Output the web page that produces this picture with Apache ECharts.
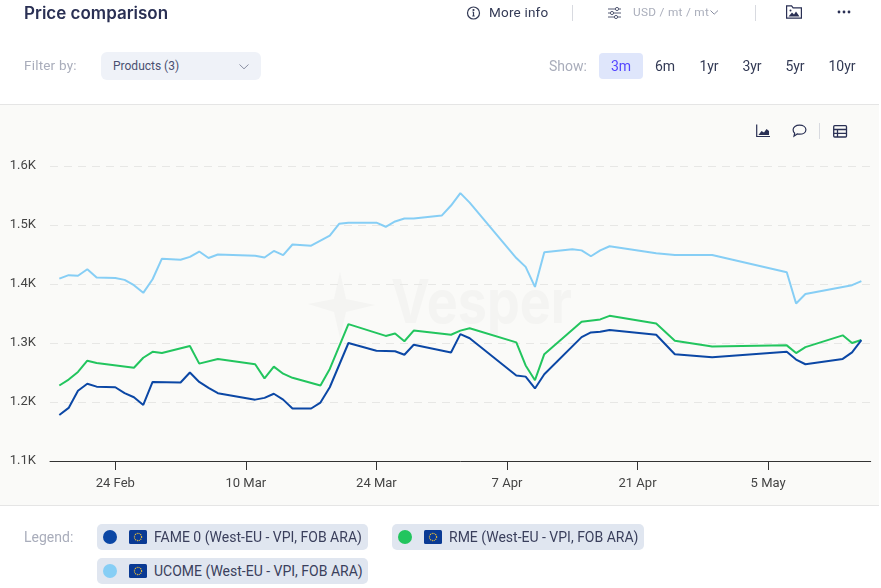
<!DOCTYPE html>
<html><head><meta charset="utf-8">
<script src="https://cdn.jsdelivr.net/npm/echarts@6/dist/echarts.min.js"></script>
<style>
html,body{margin:0;padding:0;background:#fff;width:881px;height:588px;overflow:hidden;font-family:Roboto,sans-serif}
.a{position:absolute;white-space:nowrap;line-height:1}
.c{transform:translate(-50%,0)}
#panel{position:absolute;left:0;top:104px;width:879px;height:400px;background:#fafaf8;border-top:1px solid #e5e5e5;border-bottom:1px solid #e5e5e5}
#chart{position:absolute;left:0;top:0;width:881px;height:588px}
.chip{position:absolute;background:#e0e6f0;border-radius:5px;height:26px}
.dot{position:absolute;width:14px;height:14px;border-radius:50%;top:6px;left:6px}
.chip svg{position:absolute;left:32px;top:6px}
.chip span{position:absolute;left:57px;top:5.5px;font-size:14px;color:#3a3f5c;white-space:nowrap;line-height:1.1}
svg{position:absolute;overflow:visible}
</style></head><body>
<div id="panel"></div>
<svg style="left:0;top:0" width="881" height="588">
 <path d="M340 272 L346 299 L375 305 L346 312 L340 338 L334 312 L308 304 L334 299 Z" fill="#f4f4f2"/>
 <text x="391" y="323" font-family="Inter" font-weight="700" font-size="60" fill="#f4f4f2" textLength="181" lengthAdjust="spacingAndGlyphs">Vesper</text>
</svg>
<div id="chart"></div>
<div class="a" style="left:24px;top:3px;font:600 17px Inter;color:#2a3054">Price comparison</div>
<svg style="left:467px;top:6px" width="14" height="14" fill="none" stroke="#333a55" stroke-width="1.2"><circle cx="6.5" cy="7" r="6"/><path d="M6.5 6v4M5.3 10h2.4M5.5 6h1" /><circle cx="6.5" cy="4" r=".5"/></svg>
<div class="a" style="left:489px;top:6px;font-size:13.5px;color:#333a55;letter-spacing:.2px">More info</div>
<div class="a" style="left:572px;top:5px;width:1px;height:16px;background:#d8dae0"></div>
<svg style="left:608px;top:7px" width="14" height="12" fill="none" stroke="#555b75" stroke-width="1"><path d="M0 2h13M0 6h13M0 10h13"/><circle cx="9" cy="2" r="1.6" fill="#fff"/><circle cx="4" cy="6" r="1.6" fill="#fff"/><circle cx="8" cy="10" r="1.6" fill="#fff"/></svg>
<div class="a" style="left:633px;top:7px;font-size:11.8px;color:#aaaebb;letter-spacing:.3px">USD / mt / mt</div>
<svg style="left:710px;top:10px" width="9" height="6" fill="none" stroke="#888da0" stroke-width="1"><path d="M.5 .5L4.2 4.2L8 .5"/></svg>
<div class="a" style="left:755px;top:5px;width:1px;height:16px;background:#d8dae0"></div>
<svg style="left:786px;top:5px" width="16" height="14" fill="none" stroke="#2a3054" stroke-width="1.2"><path d="M.6 13.2V.8h5l1.5 2h8.3v10.4z"/><path d="M2.5 11.5l3.5-4 2 2 2-3 3.5 5z" fill="#2a3054" stroke="none"/><circle cx="4.5" cy="5.6" r="1" fill="#2a3054" stroke="none"/></svg>
<svg style="left:837px;top:10px" width="14" height="4" fill="#2a3054"><circle cx="2" cy="2" r="1.4"/><circle cx="7" cy="2" r="1.4"/><circle cx="12" cy="2" r="1.4"/></svg>

<div class="a" style="left:24px;top:59px;font-size:13.5px;color:#a9adbb;letter-spacing:.2px">Filter by:</div>
<div class="a" style="left:101px;top:52px;width:160px;height:28px;background:#eff2f8;border-radius:6px"></div>
<div class="a" style="left:113px;top:60px;font-size:12px;color:#4a5070">Products (3)</div>
<svg style="left:239px;top:64px" width="10" height="6" fill="none" stroke="#8a8fa3" stroke-width="1"><path d="M.5 .5L5 4.8L9.5 .5"/></svg>
<div class="a" style="left:549px;top:59px;font-size:14px;color:#a9adbb">Show:</div>
<div class="a" style="left:599px;top:53px;width:44px;height:26px;background:#dfe6fb;border-radius:4px"></div>
<div class="a c" style="left:621px;top:59px;font-size:14px;color:#5546ff">3m</div>
<div class="a c" style="left:665px;top:59px;font-size:14px;color:#333a55">6m</div>
<div class="a c" style="left:709px;top:59px;font-size:14px;color:#333a55">1yr</div>
<div class="a c" style="left:752px;top:59px;font-size:14px;color:#333a55">3yr</div>
<div class="a c" style="left:795px;top:59px;font-size:14px;color:#333a55">5yr</div>
<div class="a c" style="left:842px;top:59px;font-size:14px;color:#333a55">10yr</div>

<svg style="left:756px;top:124px" width="15" height="14" fill="none" stroke="#2a3054" stroke-width="1.2"><path d="M.7 .5V12.5H14"/><path d="M2.5 11l3-4 2.5 1.5 2.5-3.5 2.5 2V11z" fill="#2a3054" stroke="none"/></svg>
<svg style="left:792px;top:124px" width="15" height="14" fill="none" stroke="#2a3054" stroke-width="1.2"><path d="M7.5 1.2c3.7 0 6.4 1.9 6.4 4.5s-2.7 4.5-6.4 4.5c-.8 0-1.6-.1-2.3-.3L2 12.2l.7-3c-1-.9-1.6-2.1-1.6-3.5 0-2.6 2.7-4.5 6.4-4.5z"/></svg>
<div class="a" style="left:819px;top:123px;width:1px;height:16px;background:#d8dae0"></div>
<svg style="left:833px;top:125px" width="14" height="13" fill="none" stroke="#2a3054" stroke-width="1.3"><rect x=".7" y=".7" width="12.8" height="11.3" rx="1"/><path d="M.7 4.5h12.8M.7 8.3h12.8M4.5 4.5V12"/></svg>

<div class="a" style="left:24px;top:530px;font-size:14px;color:#a9adbb">Legend:</div>
<div id="legendBox"></div>

<script>
// Every day on the horizontal axis, 17 Feb to 16 May
const axisDays = ['17 Feb','18 Feb','19 Feb','20 Feb','21 Feb','22 Feb','23 Feb','24 Feb','25 Feb','26 Feb','27 Feb','28 Feb',
 '1 Mar','2 Mar','3 Mar','4 Mar','5 Mar','6 Mar','7 Mar','8 Mar','9 Mar','10 Mar','11 Mar','12 Mar','13 Mar','14 Mar','15 Mar','16 Mar','17 Mar','18 Mar','19 Mar','20 Mar','21 Mar','22 Mar','23 Mar','24 Mar','25 Mar','26 Mar','27 Mar','28 Mar','29 Mar','30 Mar','31 Mar',
 '1 Apr','2 Apr','3 Apr','4 Apr','5 Apr','6 Apr','7 Apr','8 Apr','9 Apr','10 Apr','11 Apr','12 Apr','13 Apr','14 Apr','15 Apr','16 Apr','17 Apr','18 Apr','19 Apr','20 Apr','21 Apr','22 Apr','23 Apr','24 Apr','25 Apr','26 Apr','27 Apr','28 Apr','29 Apr','30 Apr',
 '1 May','2 May','3 May','4 May','5 May','6 May','7 May','8 May','9 May','10 May','11 May','12 May','13 May','14 May','15 May','16 May'];
const tickDays = ['24 Feb','10 Mar','24 Mar','7 Apr','21 Apr','5 May'];
const pointDays = ['18 Feb','19 Feb','20 Feb','21 Feb','22 Feb','24 Feb','25 Feb','26 Feb','27 Feb','28 Feb','1 Mar','3 Mar','4 Mar','5 Mar','6 Mar','7 Mar','11 Mar','12 Mar','13 Mar','14 Mar','15 Mar','17 Mar','18 Mar','19 Mar','20 Mar','21 Mar','24 Mar','25 Mar','26 Mar','27 Mar','28 Mar','31 Mar','1 Apr','2 Apr','3 Apr','8 Apr','9 Apr','10 Apr','11 Apr','14 Apr','15 Apr','16 Apr','17 Apr','18 Apr','23 Apr','25 Apr','29 Apr','7 May','8 May','9 May','13 May','14 May','15 May'];
const fame = [1178,1190,1219,1231,1226,1225,1215,1208,1195,1234,null,1233,1250,1234,1224,1215,1204,1207,1214,1204,1189,1189,1199,1225,null,1300,1287,null,1286,1280,1297,null,1284,1315,1308,1245,1243,1223,1247,null,1310,1318,1319,1322,1314,1281,1276,1285,1272,1264,1273,1284,1305];
const rme = [1228,1238,1251,1270,1266,null,null,1258,1275,1285,1283,null,1295,1265,null,1273,1264,1240,1260,1248,1241,null,1228,1256,null,1332,null,1312,1316,1303,1321,null,1314,1321,1325,1301,1262,1237,1281,null,1336,null,1340,1346,1333,1304,1294,1296,1283,1293,1313,1300,1305];
const ucome = [1409,1415,1414,1425,1411,1410,1407,1398,1385,1408,1443,1441,1446,1455,1444,1450,1448,1445,1456,1449,1467,1465,null,1482,1502,1504,1504,1497,1506,1511,1511,1516,1533,1554,1538,1444,1429,1395,1454,1459,1457,1447,1457,1464,1452,1449,1449,1420,1367,1383,null,1398,1405];
const seriesNames = ['FAME 0 (West-EU - VPI, FOB ARA)','RME (West-EU - VPI, FOB ARA)','UCOME (West-EU - VPI, FOB ARA)'];
const seriesColors = ['#0b47a5','#22c55e','#86cef5'];

const flag = '<svg width="18" height="14"><rect width="18" height="14" rx="1.5" fill="#0a3a94"/><circle cx="9" cy="7" r="3.6" fill="none" stroke="#f2c230" stroke-width="1.2" stroke-dasharray="1 .9"/></svg>';
const chips = [[97,524,271],[392,524,252],[97,558,271]];
document.getElementById('legendBox').innerHTML = seriesNames.map((n,i)=>
 `<div class="chip" style="left:${chips[i][0]}px;top:${chips[i][1]}px;width:${chips[i][2]}px"><div class="dot" style="background:${seriesColors[i]}"></div>${flag}<span>${n}</span></div>`).join('');

const toPairs = vals => pointDays.map((d,i)=>[d,vals[i]]);
const mk = (i,vals)=>({name:seriesNames[i],type:'line',data:toPairs(vals),connectNulls:true,showSymbol:false,smooth:false,
  lineStyle:{color:seriesColors[i],width:2},itemStyle:{color:seriesColors[i]},z:2+(i===0?2:i===1?1:0)});
const chart = echarts.init(document.getElementById('chart'),null,{renderer:'canvas'});
const isTick = (idx,val)=>tickDays.includes(val);
chart.setOption({
  backgroundColor:'transparent',animation:false,
  grid:{left:50,top:166,width:820.7,height:295,containLabel:false},
  xAxis:{type:'category',data:axisDays,boundaryGap:false,
    axisLine:{lineStyle:{color:'#333',width:1}},
    axisTick:{show:true,length:9,interval:isTick,lineStyle:{color:'#333',width:1}},
    axisLabel:{interval:isTick,color:'#444',fontFamily:'Roboto',fontSize:13,margin:16,hideOverlap:false},
    splitLine:{show:false}},
  yAxis:{type:'value',min:1100,max:1600,interval:100,
    axisLine:{show:false},axisTick:{show:false},
    axisLabel:{color:'#444',fontFamily:'Roboto',fontSize:13,margin:14,formatter:v=>(v/1000).toFixed(1)+'K'},
    splitLine:{lineStyle:{color:'#e7e7e5',type:[8,6],width:1}}},
  series:[mk(0,fame),mk(1,rme),mk(2,ucome)]
});
</script>
</body></html>
